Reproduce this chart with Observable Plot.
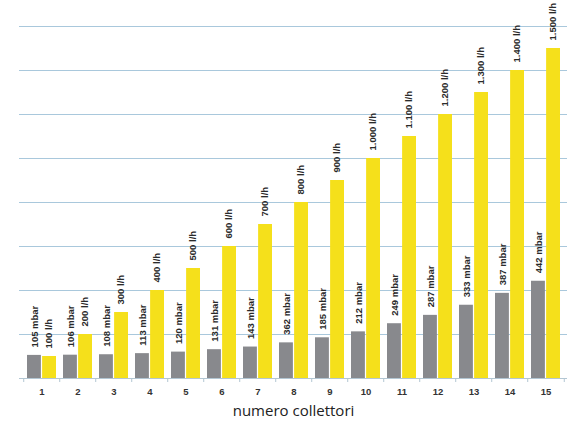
<!DOCTYPE html>
<html>
<head>
<meta charset="utf-8">
<script src="https://cdn.jsdelivr.net/npm/d3@7"></script>
<script src="https://cdn.jsdelivr.net/npm/@observablehq/plot@0.6"></script>
<style>
  body { margin: 0; background: #fff; }
</style>
</head>
<body>
<div id="chart"></div>
<script>
const groups = ["1","2","3","4","5","6","7","8","9","10","11","12","13","14","15"];
const mbarValues = [105, 106, 108, 113, 120, 131, 143, 162, 185, 212, 249, 287, 333, 387, 442];
const mbarLabels = ["105 mbar","106 mbar","108 mbar","113 mbar","120 mbar","131 mbar","143 mbar","362 mbar","185 mbar","212 mbar","249 mbar","287 mbar","333 mbar","387 mbar","442 mbar"];
const flowValues = [100, 200, 300, 400, 500, 600, 700, 800, 900, 1000, 1100, 1200, 1300, 1400, 1500];
const flowLabels = ["100 l/h","200 l/h","300 l/h","400 l/h","500 l/h","600 l/h","700 l/h","800 l/h","900 l/h","1.000 l/h","1.100 l/h","1.200 l/h","1.300 l/h","1.400 l/h","1.500 l/h"];
const gridTicks = [200, 400, 600, 800, 1000, 1200, 1400, 1600];
const xTitle = "numero collettori";

const mbarData = groups.map((g, i) => ({group: g, value: mbarValues[i], label: mbarLabels[i]}));
const flowData = groups.map((g, i) => ({group: g, value: flowValues[i], label: flowLabels[i]}));

const W = 576, H = 421;
const mL = 19, mR = 9;
const step = (W - mL - mR) / 15;
const bw = step * 0.8;
const half = bw / 2;

const labelFont = "'Liberation Sans', Arial, sans-serif";

const chart = Plot.plot({
  width: W,
  height: H,
  marginLeft: mL,
  marginRight: mR,
  marginTop: 26,
  marginBottom: 43,
  style: {background: "#fff", fontFamily: labelFont},
  x: {domain: groups, paddingInner: 0.2, paddingOuter: 0.1, label: null},
  y: {domain: [0, 1600], axis: null},
  marks: [
    Plot.ruleY(gridTicks, {stroke: "#a9c8dc", strokeWidth: 1}),
    Plot.barY(mbarData, {x: "group", y: "value", fill: "#88898d", insetRight: half + 0.5}),
    Plot.barY(flowData, {x: "group", y: "value", fill: "#f5e01b", insetLeft: half + 0.5}),
    Plot.ruleY([0], {stroke: "#b3c6d3", strokeWidth: 1.2}),
    Plot.ruleX(groups, {x: d => d, dx: -step / 2, y1: 0, y2: 0, insetBottom: -4, stroke: "#b3c6d3"}),
    Plot.ruleX(groups.slice(-1), {x: d => d, dx: step / 2, y1: 0, y2: 0, insetBottom: -4, stroke: "#b3c6d3"}),
    Plot.text(mbarData, {x: "group", y: "value", text: "label", rotate: -90, textAnchor: "start", lineAnchor: "middle", dx: -half / 2, dy: -8, fontSize: 9.5, fontWeight: "bold", fill: "#2a2a2a"}),
    Plot.text(flowData, {x: "group", y: "value", text: "label", rotate: -90, textAnchor: "start", lineAnchor: "middle", dx: half / 2, dy: -8, fontSize: 9.5, fontWeight: "bold", fill: "#2a2a2a"}),
    Plot.axisX({tickSize: 0, tickPadding: 10, fontSize: 9.5, fontWeight: "bold", color: "#333", label: null}),
    Plot.text([xTitle], {frameAnchor: "bottom", dy: 33, lineAnchor: "middle", fontSize: 15, fill: "#222", fontFamily: "'Open Sans', Lato, sans-serif"})
  ]
});
document.getElementById("chart").appendChild(chart);
</script>
</body>
</html>
